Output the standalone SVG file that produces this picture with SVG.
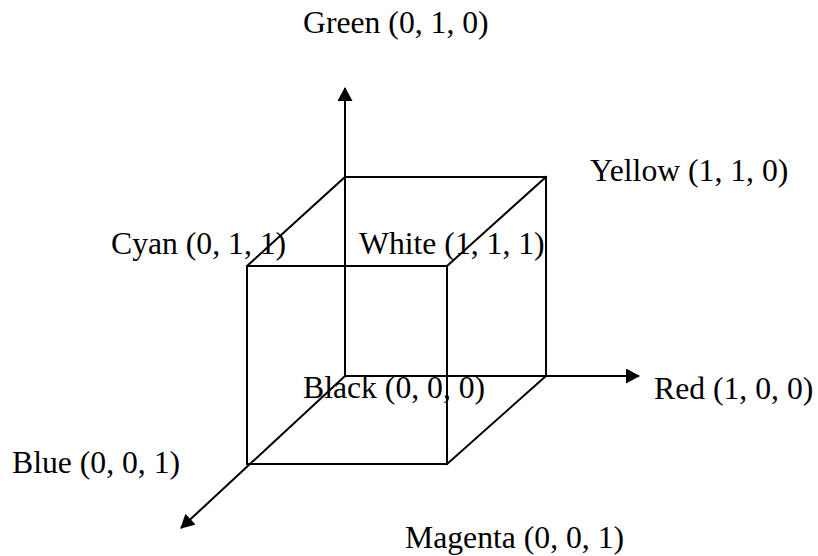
<svg xmlns="http://www.w3.org/2000/svg" width="818" height="556" viewBox="0 0 818 556">
<style>
.edge{stroke:#000;stroke-width:2;fill:none;stroke-linecap:square}
.axis{stroke:#000;stroke-width:2;fill:none;marker-end:url(#arr)}
.lbl{font-family:"Liberation Serif","Times New Roman",serif;font-size:31.7px;fill:#000}
</style>
<defs>
<marker id="arr" markerUnits="userSpaceOnUse" markerWidth="16" markerHeight="16" refX="13" refY="7.5" orient="auto">
<path d="M0,0 L14,7.5 L0,15 Z" fill="#000"/>
</marker>
</defs>
<rect width="818" height="556" fill="#fff"/>
<g id="connectors">
<line class="axis" x1="345" y1="376" x2="345" y2="88"/>
<line class="axis" x1="345" y1="376" x2="639" y2="376"/>
<line class="axis" x1="345" y1="376" x2="181" y2="528"/>
<path class="edge" d="M345,177 H546 V376"/>
<rect class="edge" x="247" y="266" width="200" height="198"/>
<line class="edge" x1="345" y1="177" x2="247" y2="266"/>
<line class="edge" x1="546" y1="177" x2="447" y2="266"/>
<line class="edge" x1="546" y1="376" x2="447" y2="464"/>
</g>
<g id="green"><text class="lbl" x="303" y="33">Green (0, 1, 0)</text></g>
<g id="yellow"><text class="lbl" x="590" y="181">Yellow (1, 1, 0)</text></g>
<g id="cyan"><text class="lbl" x="111" y="254">Cyan (0, 1, 1)</text></g>
<g id="white"><text class="lbl" x="359" y="254">White (1, 1, 1)</text></g>
<g id="black"><text class="lbl" x="303" y="398">Black (0, 0, 0)</text></g>
<g id="red"><text class="lbl" x="654" y="399">Red (1, 0, 0)</text></g>
<g id="blue"><text class="lbl" x="12" y="473">Blue (0, 0, 1)</text></g>
<g id="magenta"><text class="lbl" x="405" y="548">Magenta (0, 0, 1)</text></g>
</svg>
